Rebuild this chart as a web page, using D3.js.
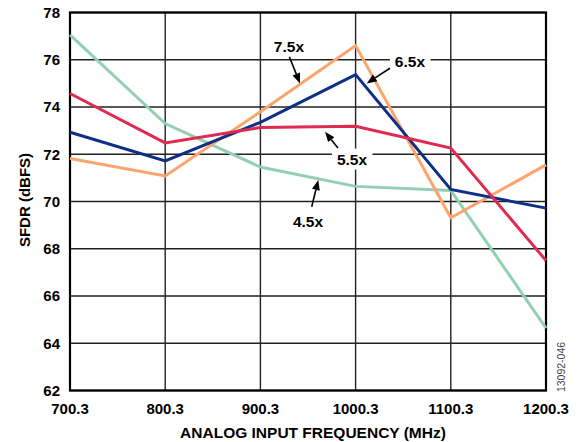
<!DOCTYPE html>
<html>
<head>
<meta charset="utf-8">
<script src="https://cdn.jsdelivr.net/npm/d3@7"></script>
<style>
  body { margin: 0; background: #fff; }
  text { font-family: "Liberation Sans", Arial, Helvetica, sans-serif; }
</style>
</head>
<body>
<svg width="578" height="442"></svg>
<script>
var freqs = [700.3, 800.3, 900.3, 1000.3, 1100.3, 1200.3];
var xTicks = ["700.3", "800.3", "900.3", "1000.3", "1100.3", "1200.3"];
var yTicks = [62, 64, 66, 68, 70, 72, 74, 76, 78];

var sfdr45 = [77.05, 73.3, 71.46, 70.64, 70.47, 64.64];
var sfdr55 = [74.57, 72.48, 73.13, 73.18, 72.26, 67.5];
var sfdr65 = [72.93, 71.72, 73.35, 75.37, 70.51, 69.72];
var sfdr75 = [71.82, 71.08, 73.8, 76.6, 69.31, 71.55];

// label position, arrow start, arrow tip (in data units)
var labels = [
  {text: "7.5x", at: [930.3, 76.58], from: [930.7, 76.13], to: [941.9, 75.0], box: false},
  {text: "6.5x", at: [1057.4, 75.95], from: [1036.4, 75.64], to: [1012.0, 75.0], box: true},
  {text: "5.5x", at: [996.5, 71.8], from: [981.8, 72.26], to: [968.2, 72.95], box: true},
  {text: "4.5x", at: [950.3, 69.17], from: [954.2, 69.78], to: [961.1, 70.91], box: false}
];

var svg = d3.select("svg");
var margin = {left: 70, top: 12.5, right: 32, bottom: 51.5};
var width = 578 - margin.left - margin.right,
  height = 442 - margin.top - margin.bottom;

var x = d3.scaleLinear().domain([700.3, 1200.3]).range([margin.left, margin.left + width]);
var y = d3.scaleLinear().domain([62, 78]).range([margin.top + height, margin.top]);

// grid
var grid = svg.append("g").attr("stroke", "#222").attr("stroke-width", 1.4);
grid.selectAll(".vg").data(freqs).enter().append("line")
  .attr("x1", function(d) {return x(d);})
  .attr("x2", function(d) {return x(d);})
  .attr("y1", y(62)).attr("y2", y(78));
grid.selectAll(".hg").data(yTicks).enter().append("line")
  .attr("x1", x(700.3)).attr("x2", x(1200.3))
  .attr("y1", function(d) {return y(d);})
  .attr("y2", function(d) {return y(d);});

svg.append("rect")
  .attr("x", x(700.3)).attr("y", y(78))
  .attr("width", x(1200.3) - x(700.3)).attr("height", y(62) - y(78))
  .attr("fill", "none").attr("stroke", "#000").attr("stroke-width", 2.2);

// tick labels
svg.append("g").selectAll("text").data(yTicks).enter().append("text")
  .attr("x", 60).attr("y", function(d) {return y(d);})
  .attr("dy", "0.36em").attr("text-anchor", "end")
  .attr("font-size", 15).attr("font-weight", "bold")
  .text(function(d) {return d;});

svg.append("g").selectAll("text").data(freqs).enter().append("text")
  .attr("x", function(d) {return x(d);}).attr("y", 414)
  .attr("text-anchor", "middle")
  .attr("font-size", 15).attr("font-weight", "bold")
  .text(function(d, i) {return xTicks[i];});

svg.append("text")
  .attr("x", 313).attr("y", 437.5)
  .attr("text-anchor", "middle").attr("font-size", 15.5).attr("font-weight", "bold")
  .text("ANALOG INPUT FREQUENCY (MHz)");

svg.append("text")
  .attr("transform", "translate(30,200) rotate(-90)")
  .attr("text-anchor", "middle").attr("font-size", 15).attr("font-weight", "bold")
  .text("SFDR (dBFS)");

svg.append("text")
  .attr("transform", "translate(565,367) rotate(-90)")
  .attr("text-anchor", "middle").attr("font-size", 10.5).attr("fill", "#444")
  .text("13092-046");

// series
var series = [
  {vals: sfdr45, color: "#93cfb2"},
  {vals: sfdr75, color: "#fda46c"},
  {vals: sfdr65, color: "#0d2f85"},
  {vals: sfdr55, color: "#e02a52"}
];

var line = d3.line()
  .x(function(d, i) {return x(freqs[i]);})
  .y(function(d) {return y(d);});

svg.append("g").selectAll("path").data(series).enter().append("path")
  .attr("d", function(d) {return line(d.vals);})
  .attr("fill", "none")
  .attr("stroke", function(d) {return d.color;})
  .attr("stroke-width", 3)
  .attr("stroke-linejoin", "miter");

// annotations
var ann = svg.append("g");
labels.forEach(function(l) {
  var x0 = x(l.from[0]), y0 = y(l.from[1]);
  var x1 = x(l.to[0]), y1 = y(l.to[1]);
  var ang = Math.atan2(y1 - y0, x1 - x0);
  var hl = 10, hw = 4;
  var bx = x1 - hl * Math.cos(ang), by = y1 - hl * Math.sin(ang);

  var g = ann.append("g");
  var t = g.append("text")
    .attr("x", x(l.at[0])).attr("y", y(l.at[1]))
    .attr("dy", "0.36em").attr("text-anchor", "middle")
    .attr("font-size", 15.5).attr("font-weight", "bold")
    .text(l.text);
  if (l.box) {
    var bb = t.node().getBBox();
    g.insert("rect", "text")
      .attr("x", bb.x - 5).attr("y", bb.y - 2)
      .attr("width", bb.width + 10).attr("height", bb.height + 4)
      .attr("fill", "#fff");
  }
  g.append("line")
    .attr("x1", x0).attr("y1", y0).attr("x2", bx).attr("y2", by)
    .attr("stroke", "#000").attr("stroke-width", 1.6);
  g.append("path")
    .attr("d", "M" + x1 + "," + y1 +
      "L" + (bx + hw * Math.sin(ang)) + "," + (by - hw * Math.cos(ang)) +
      "L" + (bx - hw * Math.sin(ang)) + "," + (by + hw * Math.cos(ang)) + "Z")
    .attr("fill", "#000");
});
</script>
</body>
</html>
